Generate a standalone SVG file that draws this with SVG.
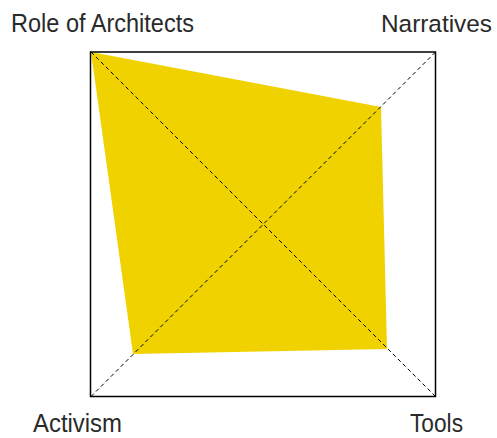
<svg xmlns="http://www.w3.org/2000/svg" width="497" height="438" viewBox="0 0 497 438">
<style>
.lbl{font-family:"Liberation Sans",Arial,sans-serif;font-size:26px;fill:#2a2a2a;font-weight:300}
.diag{stroke:#000;stroke-width:1;stroke-dasharray:4,3;fill:none}
</style>
<rect width="497" height="438" fill="#fff"/>
<g id="area">
<polygon points="91,52 381,107 387,349 133,354" fill="#F0D200"/>
</g>
<g id="connectors">
<line class="diag" x1="91" y1="52" x2="435.5" y2="396.5"/>
<line class="diag" x1="91" y1="396.5" x2="435.5" y2="52"/>
</g>
<g id="frame">
<rect x="90.5" y="52" width="345" height="344.5" fill="none" stroke="#000" stroke-width="1.5"/>
</g>
<g id="role"><text class="lbl" x="11" y="32" textLength="183" lengthAdjust="spacingAndGlyphs">Role of Architects</text></g>
<g id="narratives"><text class="lbl" x="381" y="32" style="font-size:24.3px" textLength="111" lengthAdjust="spacingAndGlyphs">Narratives</text></g>
<g id="activism"><text class="lbl" x="33" y="432" textLength="89" lengthAdjust="spacingAndGlyphs">Activism</text></g>
<g id="tools"><text class="lbl" x="410" y="432" textLength="53" lengthAdjust="spacingAndGlyphs">Tools</text></g>
</svg>
